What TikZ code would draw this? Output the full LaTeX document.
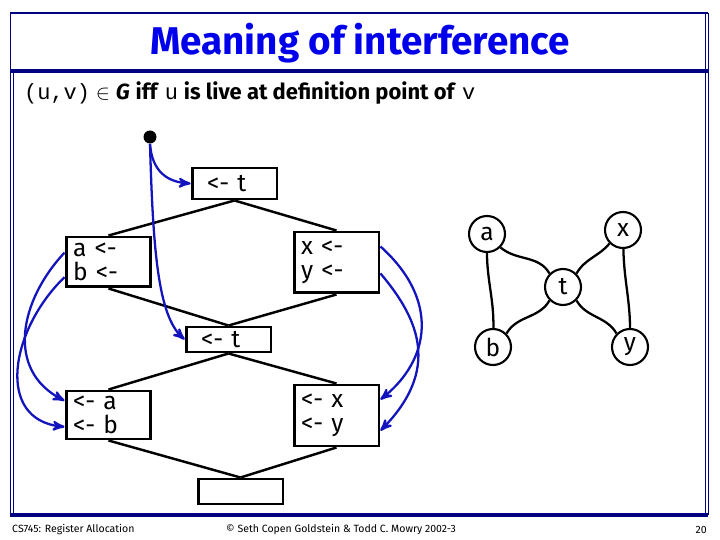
\documentclass[tikz,border=0pt]{standalone}
\usepackage{fontspec}
\setmainfont{Fira Sans}
\setmonofont{Liberation Mono}
\usetikzlibrary{arrows}
\definecolor{navy}{RGB}{0,0,128}
\definecolor{arrblue}{RGB}{20,20,190}
\definecolor{titleblue}{RGB}{0,0,235}

\begin{document}
\begin{tikzpicture}[x=0.02cm, y=-0.02cm,
  cfg/.style={draw, line width=1.7pt, text width=1.42cm, inner xsep=0.14cm, inner ysep=0pt, align=left, font=\fontsize{14}{13.5}\selectfont},
  var/.style={draw, circle, line width=1.2pt, minimum size=0.72cm, inner sep=0pt, font=\fontsize{14}{14}\selectfont},
  flow/.style={line width=1.4pt},
  live/.style={arrblue, line width=1.3pt, ->, >=stealth'},
  ifere/.style={line width=1.3pt}]
\useasboundingbox (0,0) rectangle (720,540);

% slide frame
\draw[navy, line width=1.7pt] (10,13) -- (708,13);
\draw[navy, line width=2.3pt] (10,71) -- (708,71);
\draw[navy, line width=2.3pt] (10,515) -- (708,515);
\draw[navy, line width=0.5pt] (10,13) -- (10,515) (13,71) -- (13,515);
\draw[navy, line width=0.5pt] (705,13) -- (705,515) (708,13) -- (708,515);

\node[titleblue, font=\fontsize{22}{26}\bfseries\selectfont] (title) at (360,43) {Meaning of interference};
\node[anchor=west, font=\fontsize{12.5}{14}\selectfont] (defn) at (18,93)
  {\texttt{(u,v)} $\in$ \textbf{\textit{G}} \textbf{iff} \texttt{u} \textbf{is live at definition point of} \texttt{v}};

% control flow graph
\node[circle, fill, inner sep=0pt, minimum size=0.26cm] (entry) at (150,137) {};
\node[cfg, minimum height=0.62cm] (t1) at (234.5,183.5) {\hspace*{0.16cm}<- t};
\node[cfg, minimum height=1.0cm] (ab) at (108.5,262) {a <-\\b <-};
\node[cfg, minimum height=1.22cm] (xy) at (336.5,262.5) {x <-\\y <-};
\node[cfg, minimum height=0.5cm] (t2) at (228.5,339.5) {\hspace*{0.16cm}<- t};
\node[cfg, minimum height=0.96cm] (useab) at (108.5,415) {<- a\\<- b};
\node[cfg, minimum height=1.22cm] (usexy) at (336.5,415.5) {<- x\\<- y};
\node[cfg, minimum height=0.5cm] (exit) at (240.5,491.5) {};

\draw[flow] (t1.south) -- (ab.north);
\draw[flow] (t1.south) -- (xy.north);
\draw[flow] (ab.south) -- (t2.north);
\draw[flow] (xy.south) -- (t2.north);
\draw[flow] (t2.south) -- (useab.north);
\draw[flow] (t2.south) -- (usexy.north);
\draw[flow] (useab.south) -- (exit.north);
\draw[flow] (usexy.south) -- (exit.north);

% live ranges
\draw[live] (entry.south) .. controls (152,172) and (168,182) .. (t1.west);
\draw[live] (entry.south) .. controls (153,250) and (158,315) .. (t2.west);
\draw[live] (ab.168) .. controls (20,300) and (5,370) .. (useab.162);
\draw[live] (ab.199) .. controls (10,330) and (-5,420) .. (useab.195);
\draw[live] (xy.20) .. controls (440,300) and (430,360) .. (usexy.20);
\draw[live] (xy.-14) .. controls (420,320) and (440,370) .. (usexy.-19);

% interference graph
\node[var] (a) at (487,234) {a};
\node[var] (x) at (623,230) {x};
\node[var] (t) at (563,287) {t};
\node[var] (b) at (493,347) {b};
\node[var] (y) at (630,347) {y};

\draw[ifere] (a) .. controls (487,280) and (494,300) .. (b);
\draw[ifere] (a.-45) to[out=-40, in=120] (t.135);
\draw[ifere] (t.-135) to[out=-120, in=60] (b.45);
\draw[ifere] (t.45) to[out=60, in=-130] (x.-135);
\draw[ifere] (t.-45) to[out=-60, in=120] (y.135);
\draw[ifere] (x) .. controls (624,280) and (630,300) .. (y);

% footer
\node[anchor=west, font=\fontsize{6}{7}\selectfont] (course) at (6,530) {CS745: Register Allocation};
\node[font=\fontsize{6}{7}\selectfont] (copy) at (341,530) {© Seth Copen Goldstein \& Todd C. Mowry 2002-3};
\node[anchor=east, font=\fontsize{6}{7}\selectfont] (page) at (713,530) {20};
\end{tikzpicture}
\end{document}
